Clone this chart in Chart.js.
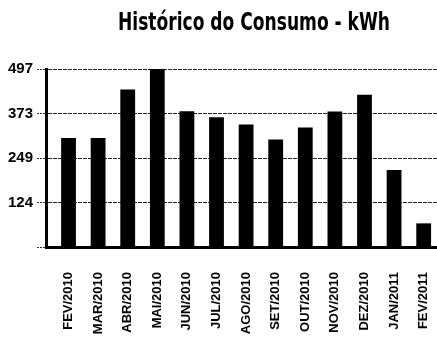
<!DOCTYPE html>
<html>
<head>
<meta charset="utf-8">
<script src="https://cdn.jsdelivr.net/npm/chart.js@4"></script>
<style>
  html, body { margin: 0; padding: 0; background: #fff; }
  #wrap { width: 437px; height: 338px; }
</style>
</head>
<body>
<div id="wrap"><canvas id="consumoChart"></canvas></div>
<script>
const titulo = 'Histórico do Consumo - kWh';
const meses = ['FEV/2010', 'MAR/2010', 'ABR/2010', 'MAI/2010', 'JUN/2010', 'JUL/2010', 'AGO/2010',
  'SET/2010', 'OUT/2010', 'NOV/2010', 'DEZ/2010', 'JAN/2011', 'FEV/2011'];
const consumo = [304, 304, 440, 497, 379, 362, 342, 300, 334, 378, 425, 215, 66];
const yMax = 497;
const yTickLabels = ['', '124', '249', '373', '497'];

// condensed bold title, squeezed horizontally since no narrow font is around
const tituloPlugin = {
  id: 'tituloCondensado',
  afterDraw(chart) {
    const c = chart.ctx;
    c.save();
    c.font = 'bold 25px "DejaVu Sans Condensed", "DejaVu Sans", sans-serif';
    c.fillStyle = '#000';
    c.textAlign = 'center';
    c.textBaseline = 'alphabetic';
    const w = c.measureText(titulo).width;
    const sx = 272 / w;
    c.translate(254, 30);
    c.scale(sx, 1);
    c.fillText(titulo, 0, 0);
    c.restore();
  }
};

const ctx = document.getElementById('consumoChart');

new Chart(ctx, {
  type: 'bar',
  data: {
    datasets: [{
      label: 'kWh',
      data: consumo.map((v, i) => ({ x: i, y: v })),
      backgroundColor: '#000',
      borderWidth: 0,
      categoryPercentage: 1,
      barPercentage: 0.5
    }]
  },
  options: {
    responsive: true,
    maintainAspectRatio: false,
    animation: false,
    layout: {
      padding: { left: 4, right: 0, top: 69, bottom: 0 }
    },
    plugins: {
      legend: { display: false },
      tooltip: { enabled: false }
    },
    scales: {
      x: {
        type: 'linear',
        offset: false,
        min: -0.76,
        max: 12.45,
        afterBuildTicks: scale => {
          scale.ticks = meses.map((_, i) => ({ value: i }));
        },
        afterFit: scale => {
          scale.height = 91;
          scale.paddingLeft = 0;
          scale.paddingRight = 0;
        },
        grid: { display: false },
        border: { color: '#000', width: 3 },
        ticks: {
          color: '#000',
          minRotation: 90,
          maxRotation: 90,
          autoSkip: false,
          padding: 17,
          font: { family: '"Liberation Sans", Arial, sans-serif', size: 13, weight: 'bold' },
          callback: value => meses[value]
        }
      },
      y: {
        min: 0,
        max: yMax,
        afterBuildTicks: scale => {
          scale.ticks = yTickLabels.map((_, i) => ({ value: yMax * i / 4 }));
        },
        grid: {
          color: '#222',
          lineWidth: 1,
          tickLength: 9,
          tickColor: '#333',
          tickBorderDash: [2, 1]
        },
        border: { color: '#000', width: 3, dash: [4, 1] },
        ticks: {
          color: '#000',
          padding: 4,
          font: { family: '"Liberation Sans", Arial, sans-serif', size: 15, weight: 'bold' },
          callback: (value, i) => yTickLabels[i]
        }
      }
    }
  },
  plugins: [tituloPlugin]
});
</script>
</body>
</html>
